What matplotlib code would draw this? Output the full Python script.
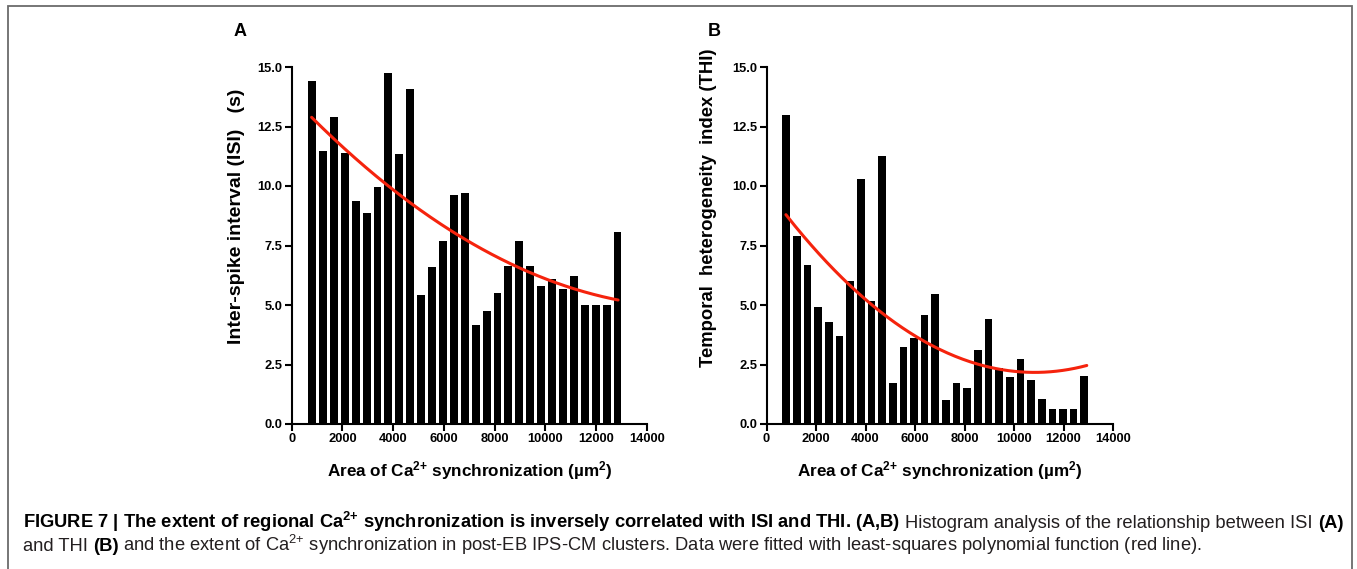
"""Figure 7 — ISI / THI vs area of regional Ca2+ synchronization, with quadratic fits."""
import matplotlib

matplotlib.use("Agg")
import matplotlib.pyplot as plt
import numpy as np
from matplotlib.patches import Rectangle

plt.rcParams["font.family"] = ["Liberation Sans", "DejaVu Sans"]
plt.rcParams["mathtext.fontset"] = "custom"
plt.rcParams["mathtext.rm"] = "Liberation Sans"
plt.rcParams["mathtext.it"] = "Liberation Sans:italic"
plt.rcParams["mathtext.bf"] = "Liberation Sans:bold"

W, H = 1357, 569

# --- data --------------------------------------------------------------------
area_bins = [800, 1230, 1660, 2090, 2520, 2950, 3380, 3810, 4240, 4670,
             5100, 5530, 5960, 6390, 6820, 7250, 7680, 8110, 8540, 8970,
             9400, 9830, 10260, 10690, 11120, 11550, 11980, 12410, 12840]
isi_values = [14.4, 11.45, 12.9, 11.4, 9.35, 8.87, 9.95, 14.75, 11.35, 14.07,
              5.4, 6.6, 7.68, 9.64, 9.72, 4.16, 4.73, 5.5, 6.65, 7.67,
              6.62, 5.78, 6.09, 5.68, 6.2, 5.01, 5.01, 5.01, 8.07]
thi_values = [13.0, 7.9, 6.69, 4.92, 4.28, 3.68, 5.99, 10.3, 5.16, 11.26,
              1.72, 3.25, 3.61, 4.6, 5.46, 1.01, 1.73, 1.51, 3.11, 4.43,
              2.34, 1.99, 2.73, 1.86, 1.06, 0.64, 0.64, 0.64, 2.01]
# published least-squares polynomials (x in thousands of um^2)
isi_fit = [0.0352, -1.116, 13.74]
thi_fit = [0.0656, -1.4216, 9.87]
x_ticks = [0, 2000, 4000, 6000, 8000, 10000, 12000, 14000]
y_ticks = [0.0, 2.5, 5.0, 7.5, 10.0, 12.5, 15.0]

XLABEL = r"Area of Ca$^{\mathbf{2{+}}}$ synchronization (µm$^{\mathbf{2}}$)"
PANELS = [
    # letter, values, fit, ylabel, label size, axes (px left/right),
    # ylabel pos (axes frac), fit end
    ("A", isi_values, isi_fit, "Inter-spike interval (ISI)   (s)", 14,
     (291.7, 647.0), (-0.154, 0.583), 12860),
    ("B", thi_values, thi_fit, "Temporal  heterogeneity  index (THI)", 13.3,
     (766.5, 1113.0), (-0.167, 0.605), 12940),
]
Y0, Y15 = 424.0, 67.0  # pixel rows of y=0 and y=15


def px_rect(left, right):
    return [left / W, 1 - Y0 / H, (right - left) / W, (Y0 - Y15) / H]


fig = plt.figure(figsize=(W / 100, H / 100), dpi=100)

for letter, vals, fit, ylab, ysize, (l, r), (lx, ly), x_end in PANELS:
    ax = fig.add_axes(px_rect(l, r))
    ax.bar(area_bins, vals, width=310, color="black", edgecolor="none")

    xs = np.linspace(area_bins[0] - 15, x_end, 200)
    ax.plot(xs, np.polyval(fit, xs / 1000), color="#f5230d", lw=2.2,
            solid_capstyle="round")

    ax.set_xlim(0, 14000)
    ax.set_ylim(0, 15)
    ax.set_xticks(x_ticks)
    ax.set_yticks(y_ticks)
    ax.set_yticklabels([f"{v:.1f}" for v in y_ticks])
    for s in ("top", "right"):
        ax.spines[s].set_visible(False)
    for s in ("left", "bottom"):
        ax.spines[s].set_linewidth(1.5)
    ax.tick_params(width=1.5, length=5, pad=1.5, labelsize=9.3)
    for lab in ax.get_xticklabels() + ax.get_yticklabels():
        lab.set_fontweight("bold")

    ax.set_xlabel(XLABEL, fontsize=12.3, fontweight="bold")
    ax.xaxis.set_label_coords(0.5, -0.129)
    ax.xaxis.label.set_va("center")
    ax.set_ylabel(ylab, fontsize=ysize, fontweight="bold")
    ax.yaxis.set_label_coords(lx, ly)
    ax.yaxis.label.set_va("center")

    fig.text((l - 52) / W, 1 - 32 / H, letter, fontsize=13, fontweight="bold",
             ha="center", va="center")

# frame around the figure (open at the bottom, as cropped)
fig.add_artist(Rectangle((7.5 / W, -0.02), (1352 - 7.5) / W, 1.02 - 6 / H,
                         transform=fig.transFigure, fill=False,
                         edgecolor="#6b6b6b", lw=1.3))

# --- caption: mixed bold / regular runs, line 1 justified to the frame -------
CAP_COLOR = "#231f20"
line1 = [
    (r"FIGURE 7 | The extent of regional Ca$^{\mathbf{2{+}}}$ synchronization is inversely "
     r"correlated with ISI and THI. (A,B)", "bold"),
    ("Histogram analysis of the relationship between ISI", "normal"),
    ("(A)", "bold"),
]
line2 = [
    ("and THI", "normal"),
    ("(B)", "bold"),
    (r"and the extent of Ca$^{2{+}}$ synchronization in post-EB IPS-CM clusters. "
     "Data were fitted with least-squares polynomial function (red line).", "normal"),
]
renderer = fig.canvas.get_renderer()


def draw_line(segments, x0, y_base, size):
    gap = size * 0.278 * 100 / 72
    x = x0
    drawn = []
    for txt, weight in segments:
        t = fig.text(x / W, 1 - y_base / H, txt, fontsize=size, fontweight=weight,
                     color=CAP_COLOR if weight == "normal" else "black",
                     ha="left", va="baseline")
        drawn.append(t)
        x = t.get_window_extent(renderer).x1 + gap
    return drawn, x - gap


size = 11.0
tmp, x_end = draw_line(line1, 22.7, 528, size)
for t in tmp:
    t.remove()
size *= (1340.7 - 22.7) / (x_end - 22.7)
draw_line(line1, 22.7, 528, size)
draw_line(line2, 22.7, 551, size)

fig.savefig("out.png", dpi=100)
